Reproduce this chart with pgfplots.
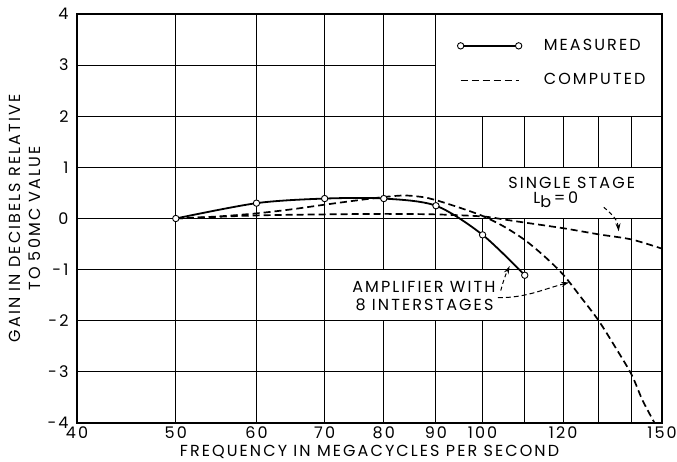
\documentclass[border=0pt]{standalone}
\usepackage{fontspec}
\setmainfont[LetterSpace=13]{Poppins}
\usepackage{pgfplots}
\pgfplotsset{compat=1.18}
\usetikzlibrary{arrows.meta}

\pgfplotstableread{
f g
50 0
60 0.30
70 0.39
80 0.39
90 0.25
100 -0.32
110 -1.11
}\measured

\pgfplotstableread{
f g
50 0
55 0.04
60 0.10
65 0.18
70 0.27
75 0.35
80 0.42
84 0.45
88 0.41
90 0.36
95 0.21
100 0.05
105 -0.16
110 -0.42
115 -0.74
120 -1.10
125 -1.55
130 -2.00
135 -2.52
140 -3.05
143.5 -3.55
147.5 -4.00
}\eightstage

\pgfplotstableread{
f g
50 0
60 0.06
70 0.08
80 0.09
90 0.08
100 0.04
105 -0.02
110 -0.08
120 -0.19
130 -0.31
140 -0.41
150 -0.59
}\singlestage

\begin{document}
\fontsize{16}{20}\selectfont
\begin{tikzpicture}[gl/.style={line width=1.1pt, black}, lab/.style={inner sep=0pt, anchor=base}]
\begin{axis}[
  scale only axis, width=585pt, height=409pt,
  xmode=log, xmin=40, xmax=150, ymin=-4, ymax=4,
  xtick={40,50,60,70,80,90,100,120,150},
  xticklabels={40,50,60,70,80,90,100,120,150},
  ytick={-4,-3,-2,-1,0,1,2,3,4},
  yticklabels={-4,-3,-2,-1,0,1,2,3,4},
  minor xtick={}, 
  major tick length=0pt, minor tick length=0pt,
  axis line style={line width=1.6pt},
  xticklabel style={anchor=center, yshift=-10pt},
  yticklabel style={anchor=east, xshift=-3pt},
  xlabel={FREQUENCY IN MEGACYCLES PER SECOND},
  ylabel={GAIN IN DECIBELS RELATIVE\\TO 50MC VALUE},
  every axis x label/.style={at={(axis description cs:0.5,0)}, anchor=center, yshift=-29pt},
  every axis y label/.style={at={(axis description cs:-0.0888,0.5)}, anchor=center, rotate=90, align=center},
  legend image code/.code={\draw[#1] plot coordinates {(0pt,0pt) (58pt,0pt)};},
  legend style={draw=none, fill=none, at={(axis description cs:0.650,0.8797)}, anchor=west,
    row sep=21pt, inner sep=0pt, nodes={inner sep=0pt},
    /tikz/every odd column/.append style={column sep=22pt}},
  legend cell align=left,
]
% grid lines (with gaps where labels and legend sit)
\draw[gl] (axis cs:40,3) -- (axis cs:90,3);
\draw[gl] (axis cs:40,2) -- (axis cs:150,2);
\draw[gl] (axis cs:40,1) -- (axis cs:150,1);
\draw[gl] (axis cs:40,0) -- (axis cs:150,0);
\draw[gl] (axis cs:40,-1) -- (axis cs:150,-1);
\draw[gl] (axis cs:40,-2) -- (axis cs:150,-2);
\draw[gl] (axis cs:40,-3) -- (axis cs:150,-3);
\draw[gl] (axis cs:50,-4) -- (axis cs:50,4);
\draw[gl] (axis cs:60,-4) -- (axis cs:60,4);
\draw[gl] (axis cs:70,-4) -- (axis cs:70,4);
\draw[gl] (axis cs:80,-4) -- (axis cs:80,-2);
\draw[gl] (axis cs:80,-1) -- (axis cs:80,4);
\draw[gl] (axis cs:90,-4) -- (axis cs:90,-2);
\draw[gl] (axis cs:90,-1) -- (axis cs:90,4);
\draw[gl] (axis cs:100,-4) -- (axis cs:100,-2);
\draw[gl] (axis cs:100,-1) -- (axis cs:100,0);
\draw[gl] (axis cs:100,1) -- (axis cs:100,2);
\draw[gl] (axis cs:110,-4) -- (axis cs:110,0);
\draw[gl] (axis cs:110,1) -- (axis cs:110,2);
\draw[gl] (axis cs:120,-4) -- (axis cs:120,0);
\draw[gl] (axis cs:120,1) -- (axis cs:120,2);
\draw[gl] (axis cs:130,-4) -- (axis cs:130,0);
\draw[gl] (axis cs:130,1) -- (axis cs:130,2);
\draw[gl] (axis cs:140,-4) -- (axis cs:140,0);
\draw[gl] (axis cs:140,1) -- (axis cs:140,2);

\addplot[black, line width=1.8pt, smooth, mark=*, mark size=3.2pt,
  mark options={fill=white, draw=black, line width=0.9pt, solid}] table[x=f,y=g] {\measured};
\addlegendentry{MEASURED}
\addplot[black, line width=1.7pt, smooth, dash pattern=on 7pt off 4pt] table[x=f,y=g] {\eightstage};
\addlegendentry{COMPUTED}
\addplot[black, line width=1.7pt, smooth, dash pattern=on 7pt off 4pt, forget plot] table[x=f,y=g] {\singlestage};

% annotations
\node[lab] at (axis cs:122.3,0.59) {SINGLE STAGE};
\node[lab] at (axis cs:118,0.30) {L\raisebox{-4pt}{b}\,=\,0};
\node[lab] at (axis cs:87.6,-1.45) {AMPLIFIER WITH};
\node[lab] at (axis cs:87.7,-1.79) {8 INTERSTAGES};
\draw[line width=1pt, dash pattern=on 4pt off 3pt, -{Stealth[length=8pt,width=5pt]}]
  (axis cs:131.5,0.22) to[out=-40,in=95] (axis cs:136,-0.25);
\draw[line width=1pt, dash pattern=on 4pt off 3pt, -{Stealth[length=8pt,width=5pt]}]
  (axis cs:104.2,-1.41) to[bend left=5] (axis cs:106.3,-0.93);
\draw[line width=1pt, dash pattern=on 5pt off 3pt, -{Stealth[length=8pt,width=5pt]}]
  (axis cs:103.5,-1.55) to[out=0,in=195] (axis cs:121.6,-1.25);
\end{axis}
\pgfresetboundingbox
\useasboundingbox (-77pt,-39pt) rectangle (600pt,423pt);
\end{tikzpicture}
\end{document}
